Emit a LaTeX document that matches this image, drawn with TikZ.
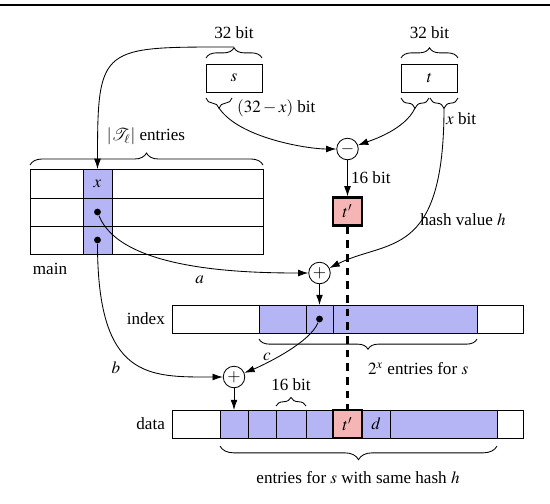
\documentclass[tikz,border=0pt]{standalone}
\usepackage{mathptmx}
\usepackage{fontspec}
\setmainfont{Liberation Serif}
\usetikzlibrary{arrows.meta, decorations.pathreplacing}
\definecolor{cellblue}{HTML}{B5B5F5}
\definecolor{hitred}{HTML}{F5B5B5}

\begin{document}
\begin{tikzpicture}[x=0.585pt, y=-0.585pt, line width=0.5pt,
    reg/.style={draw, minimum width=32.8pt, minimum height=16.4pt, inner sep=0pt},
    op/.style={circle, draw, fill=white, minimum size=12.6pt, inner sep=0pt},
    hit/.style={draw, very thick, fill=hitred, minimum width=17pt, minimum height=16.4pt, inner sep=0pt},
    dot/.style={circle, fill, minimum size=4pt, inner sep=0pt},
    arrow/.style={-{Latex[length=6pt, width=4pt]}},
    curly/.style={decorate, decoration={brace, amplitude=#1}},
    curly/.default=6pt
]
    \useasboundingbox (0,0) rectangle (550,503);
    \draw[line width=1.2pt] (0,5) -- (550,5);

    % registers
    \node[reg] (s) at (234,78) {$s$};
    \node[reg] (t) at (429.5,78) {$t$};
    \node (sbits) at (234,33) {32 bit};
    \node (tbits) at (429.5,33) {32 bit};
    \draw[curly] (206,58) -- (262,58);
    \draw[curly] (401,58) -- (458,58);
    \draw[curly] (232,98) -- (206,98);
    \draw[curly] (429,98) -- (401,98);
    \draw[curly] (458,98) -- (430,98);
    \coordinate (sTop) at (234,47);
    \coordinate (sLow) at (219,108);
    \coordinate (tLow) at (415,108);
    \coordinate (tHash) at (444,108);
    \node[anchor=west] (slab) at (231,108) {$(32-x)$ bit};
    \node[anchor=west] (tlab) at (440,119) {$x$ bit};

    % main table
    \fill[cellblue] (83,169) rectangle (112,254);
    \draw (30,169) rectangle (263,254);
    \draw (30,198) -- (263,198) (30,226) -- (263,226) (83,169) -- (83,254) (112,169) -- (112,254);
    \draw[curly=7pt] (30,165) -- (263,165);
    \node (mlab) at (146,136) {$|\mathcal{T}_\ell|$ entries};
    \node (xval) at (97.5,183.5) {$x$};
    \node[dot] (ptrA) at (97.5,212) {};
    \node[dot] (ptrB) at (97.5,240) {};
    \coordinate (xTop) at (97.5,169);
    \node (main) at (50,269) {main};

    % index table
    \fill[cellblue] (259,305) rectangle (477,333);
    \draw (172,305) rectangle (523,333);
    \foreach \c in {259,306,333,477}
        \draw (\c,305) -- (\c,333);
    \node[dot] (ptrC) at (319.5,319) {};
    \coordinate (idxIn) at (319.5,305);
    \node[anchor=east] (index) at (171,319) {index};
    \draw[curly] (477,339) -- (259,339);
    \node[anchor=west] (ilab) at (362,369) {$2^x$ entries for $s$};

    % data table
    \fill[cellblue] (220,410) rectangle (497,438);
    \draw (172,410) rectangle (523,438);
    \foreach \c in {220,248,276,306,390,497}
        \draw (\c,410) -- (\c,438);
    \node[hit] (tq) at (347.5,424) {$t'$};
    \node (dval) at (376,424) {$d$};
    \coordinate (dataIn) at (234,410);
    \node[anchor=east] (data) at (171,424) {data};
    \draw[curly=5pt] (276,406) -- (306,406);
    \node (wlab) at (291,385) {16 bit};
    \draw[curly=8pt] (497,446) -- (220,446);
    \node (dlab) at (358,478) {entries for $s$ with same hash $h$};

    % operators
    \node[op] (minus) at (347.5,149) {$-$};
    \node[hit] (tp) at (347.5,211.5) {$t'$};
    \node[anchor=west] (flab) at (345,178) {16 bit};
    \node[op] (plusA) at (319.5,273) {$+$};
    \node[op] (plusB) at (234,377) {$+$};
    \node (hlab) at (463,220) {hash value $h$};

    % connectors
    \draw[arrow] (sTop) .. controls +(-133,0) and +(0,-124) .. (xTop);
    \draw[arrow] (sLow) .. controls +(20,30) and +(-40,0) .. (minus);
    \draw[arrow] (tLow) .. controls +(-10,22) and +(22,-8) .. (minus);
    \draw[arrow] (minus) -- (tp);
    \draw[arrow] (tHash) .. controls +(0,152) and +(68,-34) .. (plusA);
    \draw[arrow] (ptrA) .. controls +(23,58) and +(-77,0) .. (plusA) node[pos=0.55, below=2pt] {$a$};
    \draw[arrow] (ptrB) .. controls +(0,140) and +(-85,0) .. (plusB);
    \node (blab) at (116,368) {$b$};
    \draw[arrow] (plusA) -- (idxIn);
    \draw[arrow] (ptrC) .. controls +(-10,25) and +(25,-10) .. (plusB);
    \node (clab) at (267,357) {$c$};
    \draw[arrow] (plusB) -- (dataIn);
    \draw[very thick, dash pattern=on 4.5pt off 3.5pt] (tp) -- (tq);
\end{tikzpicture}
\end{document}
